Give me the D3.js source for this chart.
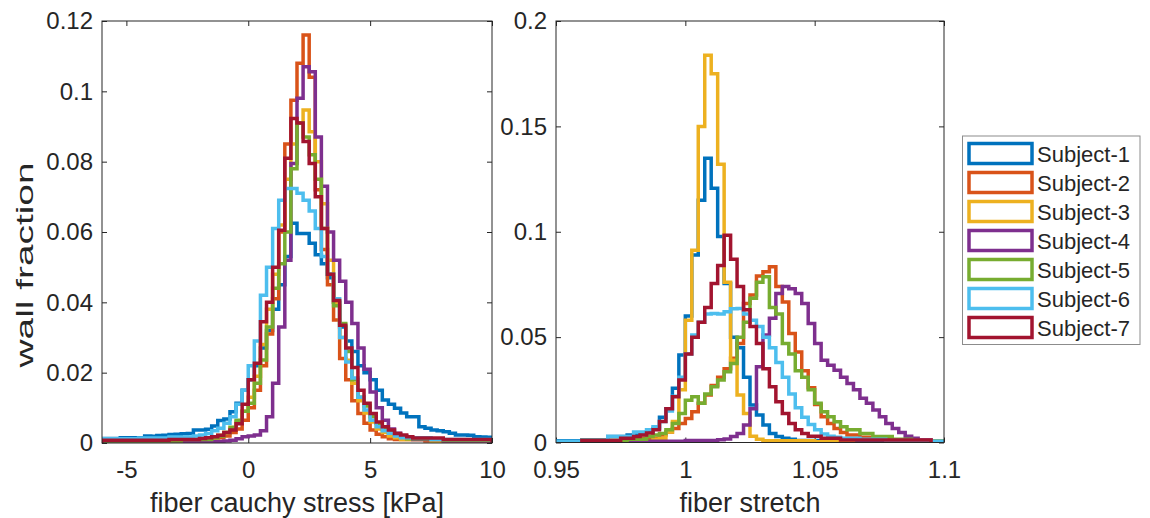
<!DOCTYPE html>
<html>
<head>
<meta charset="utf-8">
<script src="https://cdn.jsdelivr.net/npm/d3@7"></script>
<style>
body { margin: 0; background: #fff; }
text { font-family: "Liberation Sans", Arial, Helvetica, sans-serif; fill: #262626; }
</style>
</head>
<body>
<svg id="chart" width="1150" height="518"></svg>
<script>
// subjects and MATLAB default colour order
var subjects = ["Subject-1", "Subject-2", "Subject-3", "Subject-4", "Subject-5", "Subject-6", "Subject-7"];
var colors = ["#0072BD", "#D95319", "#EDB120", "#7E2F8E", "#77AC30", "#4DBEEE", "#A2142F"];

// histogram bins
var stressBinStart = -6, stressBinWidth = 0.25;     // 64 bins
var stretchBinStart = 0.95, stretchBinWidth = 0.0025; // 60 bins

// wall fraction per bin, fiber cauchy stress [kPa]
var stress1 = [
  0.0013,0.0013,0.0013,0.0015,0.0015,0.0015,0.0015,0.0020,
  0.0019,0.0021,0.0022,0.0024,0.0025,0.0026,0.0027,0.0037,
  0.0037,0.0039,0.0048,0.0064,0.0068,0.0089,0.0113,0.0150,
  0.0180,0.0220,0.0270,0.0320,0.0380,0.0450,0.0530,0.0625,
  0.0596,0.0596,0.0568,0.0535,0.0510,0.0470,0.0400,0.0330,
  0.0290,0.0260,0.0220,0.0200,0.0180,0.0150,0.0122,0.0110,
  0.0099,0.0085,0.0075,0.0075,0.0046,0.0042,0.0037,0.0035,
  0.0032,0.0028,0.0023,0.0023,0.0022,0.0018,0.0017,0.0016];
var stress2 = [
  0.0005,0.0005,0.0005,0.0005,0.0005,0.0005,0.0005,0.0005,
  0.0005,0.0005,0.0005,0.0008,0.0008,0.0008,0.0008,0.0008,
  0.0010,0.0010,0.0010,0.0015,0.0020,0.0030,0.0040,0.0065,
  0.0100,0.0150,0.0220,0.0310,0.0410,0.0600,0.0850,0.0975,
  0.1080,0.1160,0.1040,0.0720,0.0550,0.0450,0.0350,0.0240,
  0.0180,0.0120,0.0084,0.0056,0.0037,0.0025,0.0018,0.0012,
  0.0010,0.0010,0.0010,0.0010,0.0010,0.0006,0.0006,0.0006,
  0.0006,0.0006,0.0006,0.0006,0.0006,0.0006,0.0006,0.0006];
var stress3 = [
  0.0005,0.0005,0.0005,0.0005,0.0005,0.0005,0.0005,0.0005,
  0.0005,0.0005,0.0005,0.0005,0.0005,0.0008,0.0008,0.0008,
  0.0008,0.0008,0.0012,0.0022,0.0030,0.0040,0.0060,0.0090,
  0.0130,0.0190,0.0280,0.0380,0.0480,0.0620,0.0750,0.0850,
  0.0910,0.0947,0.0885,0.0800,0.0680,0.0520,0.0400,0.0300,
  0.0235,0.0170,0.0120,0.0085,0.0060,0.0040,0.0030,0.0020,
  0.0015,0.0010,0.0010,0.0010,0.0010,0.0010,0.0005,0.0005,
  0.0005,0.0005,0.0005,0.0005,0.0005,0.0005,0.0005,0.0005];
var stress4 = [
  0.0004,0.0004,0.0004,0.0004,0.0004,0.0004,0.0004,0.0004,
  0.0004,0.0004,0.0004,0.0004,0.0004,0.0004,0.0004,0.0004,
  0.0004,0.0004,0.0004,0.0004,0.0006,0.0008,0.0012,0.0018,
  0.0020,0.0023,0.0035,0.0075,0.0170,0.0330,0.0520,0.0795,
  0.0980,0.1070,0.1056,0.0870,0.0730,0.0600,0.0520,0.0460,
  0.0400,0.0340,0.0270,0.0210,0.0145,0.0100,0.0065,0.0040,
  0.0028,0.0020,0.0015,0.0010,0.0010,0.0010,0.0010,0.0010,
  0.0006,0.0006,0.0006,0.0006,0.0006,0.0006,0.0006,0.0006];
var stress5 = [
  0.0006,0.0006,0.0006,0.0006,0.0006,0.0006,0.0006,0.0006,
  0.0006,0.0006,0.0006,0.0006,0.0006,0.0010,0.0010,0.0010,
  0.0010,0.0010,0.0015,0.0020,0.0030,0.0045,0.0065,0.0090,
  0.0113,0.0170,0.0236,0.0330,0.0440,0.0510,0.0600,0.0780,
  0.0910,0.0870,0.0820,0.0750,0.0610,0.0480,0.0390,0.0340,
  0.0260,0.0180,0.0130,0.0105,0.0075,0.0056,0.0040,0.0030,
  0.0022,0.0017,0.0012,0.0012,0.0012,0.0012,0.0012,0.0012,
  0.0008,0.0008,0.0008,0.0008,0.0008,0.0008,0.0008,0.0008];
var stress6 = [
  0.0012,0.0012,0.0012,0.0012,0.0012,0.0012,0.0014,0.0014,
  0.0014,0.0014,0.0014,0.0017,0.0017,0.0017,0.0017,0.0020,
  0.0023,0.0027,0.0035,0.0042,0.0056,0.0075,0.0110,0.0150,
  0.0220,0.0290,0.0420,0.0500,0.0610,0.0690,0.0724,0.0724,
  0.0710,0.0690,0.0660,0.0610,0.0530,0.0480,0.0410,0.0300,
  0.0230,0.0185,0.0130,0.0094,0.0065,0.0046,0.0035,0.0028,
  0.0020,0.0015,0.0015,0.0015,0.0015,0.0015,0.0010,0.0010,
  0.0010,0.0010,0.0010,0.0010,0.0010,0.0010,0.0010,0.0010];
var stress7 = [
  0.0008,0.0008,0.0008,0.0008,0.0008,0.0008,0.0008,0.0008,
  0.0008,0.0008,0.0008,0.0010,0.0010,0.0010,0.0010,0.0010,
  0.0013,0.0015,0.0018,0.0022,0.0030,0.0037,0.0055,0.0110,
  0.0180,0.0227,0.0345,0.0400,0.0500,0.0605,0.0810,0.0923,
  0.0910,0.0857,0.0795,0.0700,0.0610,0.0480,0.0405,0.0335,
  0.0270,0.0215,0.0150,0.0113,0.0084,0.0060,0.0046,0.0037,
  0.0027,0.0023,0.0018,0.0014,0.0014,0.0014,0.0014,0.0014,
  0.0010,0.0010,0.0010,0.0010,0.0010,0.0010,0.0010,0.0010];

// wall fraction per bin, fiber stretch (null = no bin drawn)
var stretch1 = [
  0.0008,0.0008,0.0008,0.0008,0.0012,0.0012,0.0012,0.0012,
  0.0028,0.0028,0.0028,0.0035,0.0035,0.0043,0.0050,0.0067,
  0.0120,0.0160,0.0257,0.0415,0.0600,0.0890,0.1150,0.1349,
  0.1206,0.0977,0.0755,0.0500,0.0450,0.0310,0.0178,0.0130,
  0.0083,0.0043,0.0028,0.0020,0.0015,0.0010,0.0010,0.0010,
  0.0010,0.0005,0.0005,0.0005,0.0005,0.0005,0.0005,0.0005,
  0.0005,0.0005,0.0005,0.0003,0.0003,0.0003,0.0003,0.0003,
  0.0003,0.0003,0.0003,0.0003];
var stretch2 = [
  null,null,null,null,0.0010,0.0010,0.0010,0.0010,
  0.0010,0.0010,0.0010,0.0020,0.0020,0.0020,0.0020,0.0020,
  0.0035,0.0050,0.0067,0.0090,0.0114,0.0146,0.0186,0.0225,
  0.0270,0.0310,0.0350,0.0400,0.0470,0.0660,0.0700,0.0790,
  0.0810,0.0834,0.0740,0.0667,0.0517,0.0430,0.0340,0.0260,
  0.0180,0.0122,0.0090,0.0067,0.0047,0.0035,0.0035,0.0025,
  0.0025,0.0015,0.0015,0.0015,0.0008,0.0008,0.0008,0.0008,
  0.0008,0.0008,0.0005,0.0005];
var stretch3 = [
  null,null,null,null,0.0005,0.0005,0.0005,0.0005,
  0.0005,0.0005,0.0005,0.0005,0.0005,0.0005,0.0005,0.0015,
  0.0020,0.0050,0.0100,0.0250,0.0580,0.0912,0.1500,0.1837,
  0.1750,0.1320,0.0760,0.0390,0.0225,0.0138,0.0030,0.0015,
  0.0008,0.0008,0.0008,0.0008,0.0008,0.0008,0.0008,0.0008,
  0.0004,0.0004,0.0004,0.0004,0.0004,0.0004,null,null,
  null,null,null,null,null,null,null,null,
  null,null,null,null];
var stretch4 = [
  null,null,null,null,0.0006,0.0006,0.0006,0.0006,
  0.0006,0.0006,0.0006,0.0006,0.0006,0.0006,0.0006,0.0006,
  0.0006,0.0006,0.0006,0.0006,0.0010,0.0010,0.0010,0.0010,
  0.0010,0.0013,0.0017,0.0028,0.0043,0.0083,0.0160,0.0360,
  0.0510,0.0590,0.0707,0.0740,0.0730,0.0707,0.0660,0.0565,
  0.0470,0.0390,0.0367,0.0343,0.0310,0.0280,0.0250,0.0210,
  0.0186,0.0154,0.0122,0.0090,0.0067,0.0047,0.0030,0.0020,
  0.0012,0.0012,0.0005,0.0005];
var stretch5 = [
  null,null,null,null,0.0010,0.0010,0.0010,0.0010,
  0.0010,0.0010,0.0010,0.0015,0.0015,0.0015,0.0028,0.0035,
  0.0043,0.0060,0.0090,0.0138,0.0200,0.0217,0.0186,0.0230,
  0.0265,0.0296,0.0336,0.0375,0.0500,0.0570,0.0684,0.0760,
  0.0786,0.0640,0.0610,0.0470,0.0420,0.0340,0.0310,0.0250,
  0.0186,0.0146,0.0122,0.0098,0.0075,0.0060,0.0060,0.0043,
  0.0043,0.0028,0.0028,0.0028,0.0015,0.0015,0.0015,0.0007,
  0.0007,0.0007,0.0007,0.0007];
var stretch6 = [
  0.0006,0.0006,0.0006,0.0006,0.0009,0.0009,0.0009,0.0009,
  0.0028,0.0028,0.0028,0.0028,0.0050,0.0050,0.0060,0.0075,
  0.0100,0.0150,0.0220,0.0310,0.0420,0.0510,0.0570,0.0610,
  0.0612,0.0610,0.0620,0.0635,0.0636,0.0610,0.0580,0.0550,
  0.0500,0.0450,0.0380,0.0310,0.0230,0.0165,0.0120,0.0085,
  0.0060,0.0040,0.0030,0.0025,0.0020,0.0020,0.0020,0.0015,
  0.0015,0.0015,0.0015,0.0010,0.0010,0.0010,0.0010,0.0010,
  0.0006,0.0006,0.0006,0.0006];
var stretch7 = [
  null,null,null,null,0.0010,0.0010,0.0010,0.0010,
  0.0010,0.0010,0.0020,0.0020,0.0028,0.0035,0.0045,0.0060,
  0.0100,0.0160,0.0217,0.0296,0.0420,0.0500,0.0570,0.0640,
  0.0755,0.0840,0.0983,0.0870,0.0740,0.0630,0.0550,0.0470,
  0.0350,0.0265,0.0193,0.0138,0.0090,0.0060,0.0043,0.0030,
  0.0030,0.0020,0.0020,0.0020,0.0012,0.0012,0.0012,0.0012,
  0.0012,0.0012,0.0012,0.0012,0.0012,0.0012,0.0012,0.0012,
  0.0012,0.0012,null,null];

// ticks
var stressXTicks = [-5, 0, 5, 10], stressXLabels = ["-5", "0", "5", "10"];
var stressYTicks = [0, 0.02, 0.04, 0.06, 0.08, 0.1, 0.12];
var stressYLabels = ["0", "0.02", "0.04", "0.06", "0.08", "0.1", "0.12"];
var stretchXTicks = [0.95, 1, 1.05, 1.1], stretchXLabels = ["0.95", "1", "1.05", "1.1"];
var stretchYTicks = [0, 0.05, 0.1, 0.15, 0.2];
var stretchYLabels = ["0", "0.05", "0.1", "0.15", "0.2"];

var svg = d3.select("#chart");
var axisColor = "#262626";

function drawPanel(opt) {
    var x = d3.scaleLinear().domain(opt.xDomain).range([opt.left, opt.right]);
    var y = d3.scaleLinear().domain(opt.yDomain).range([opt.bottom, opt.top]);

    var g = svg.append("g");

    g.append("clipPath").attr("id", opt.id)
        .append("rect")
        .attr("x", opt.left).attr("y", opt.top)
        .attr("width", opt.right - opt.left).attr("height", opt.bottom - opt.top);

    // stairs outline of each histogram
    function stairs(vals) {
        var first = vals.findIndex(v => v != null);
        var last = vals.length - 1;
        while (vals[last] == null) last--;
        var edge = i => opt.binStart + i * opt.binWidth;
        var p = "M" + x(edge(first)) + "," + y(0);
        for (var i = first; i <= last; i++) {
            p += "V" + y(vals[i]) + "H" + x(edge(i + 1));
        }
        return p + "V" + y(0);
    }

    var tickLen = 5;
    var xAxis = g.append("g")
        .attr("transform", "translate(0," + opt.bottom + ")")
        .call(d3.axisBottom(x).tickValues(opt.xTicks)
            .tickFormat((d, i) => opt.xLabels[i])
            .tickSizeInner(-tickLen).tickSizeOuter(0).tickPadding(18));
    var xTop = g.append("g")
        .attr("transform", "translate(0," + opt.top + ")")
        .call(d3.axisTop(x).tickValues(opt.xTicks).tickFormat("")
            .tickSizeInner(-tickLen).tickSizeOuter(0));
    var yAxis = g.append("g")
        .attr("transform", "translate(" + opt.left + ",0)")
        .call(d3.axisLeft(y).tickValues(opt.yTicks)
            .tickFormat((d, i) => opt.yLabels[i])
            .tickSizeInner(-tickLen).tickSizeOuter(0).tickPadding(9));
    var yRight = g.append("g")
        .attr("transform", "translate(" + opt.right + ",0)")
        .call(d3.axisRight(y).tickValues(opt.yTicks).tickFormat("")
            .tickSizeInner(-tickLen).tickSizeOuter(0));

    [xAxis, xTop, yAxis, yRight].forEach(function (a) {
        a.select(".domain").remove();
        a.selectAll("line").attr("stroke", axisColor);
        a.selectAll("text")
            .style("font-family", "'Liberation Sans', Arial, Helvetica, sans-serif")
            .style("font-size", "24px")
            .attr("fill", axisColor);
    });

    g.append("g").attr("clip-path", "url(#" + opt.id + ")")
        .selectAll("path")
        .data(opt.series)
        .join("path")
        .attr("d", d => stairs(d))
        .attr("fill", "none")
        .attr("stroke", (d, i) => colors[i])
        .attr("stroke-width", 3.5)
        .attr("stroke-linejoin", "miter");

    // box
    g.append("rect")
        .attr("x", opt.left).attr("y", opt.top)
        .attr("width", opt.right - opt.left).attr("height", opt.bottom - opt.top)
        .attr("fill", "none").attr("stroke", axisColor).attr("stroke-width", 1);

    g.append("text")
        .attr("x", (opt.left + opt.right) / 2)
        .attr("y", 512)
        .attr("text-anchor", "middle")
        .style("font-size", "27px")
        .text(opt.xTitle);
}

drawPanel({
    id: "clipStress",
    left: 102, right: 492, top: 21, bottom: 443,
    xDomain: [-6, 10], yDomain: [0, 0.12],
    binStart: stressBinStart, binWidth: stressBinWidth,
    series: [stress1, stress2, stress3, stress4, stress5, stress6, stress7],
    xTicks: stressXTicks, xLabels: stressXLabels,
    yTicks: stressYTicks, yLabels: stressYLabels,
    xTitle: "fiber cauchy stress [kPa]"
});

drawPanel({
    id: "clipStretch",
    left: 556, right: 944, top: 21, bottom: 442.5,
    xDomain: [0.95, 1.1], yDomain: [0, 0.2],
    binStart: stretchBinStart, binWidth: stretchBinWidth,
    series: [stretch1, stretch2, stretch3, stretch4, stretch5, stretch6, stretch7],
    xTicks: stretchXTicks, xLabels: stretchXLabels,
    yTicks: stretchYTicks, yLabels: stretchYLabels,
    xTitle: "fiber stretch"
});

// y label
svg.append("text")
    .attr("transform", "translate(33,265) rotate(-90)")
    .attr("text-anchor", "middle")
    .attr("textLength", 205)
    .attr("lengthAdjust", "spacingAndGlyphs")
    .style("font-size", "24px")
    .text("wall fraction");

// legend
var legend = svg.append("g");
legend.append("rect")
    .attr("x", 962.5).attr("y", 136)
    .attr("width", 177.5).attr("height", 208.5)
    .attr("fill", "#fff").attr("stroke", "#8c8c8c").attr("stroke-width", 1);

var rowY = d3.scaleLinear().domain([0, 6]).range([153.5, 327.5]);
var items = legend.selectAll(".item")
    .data(subjects)
    .join("g")
    .attr("class", "item")
    .attr("transform", (d, i) => "translate(0," + rowY(i) + ")");
items.append("rect")
    .attr("x", 969).attr("y", -10)
    .attr("width", 63).attr("height", 20)
    .attr("fill", "none")
    .attr("stroke", (d, i) => colors[i])
    .attr("stroke-width", 3.5);
items.append("text")
    .attr("x", 1037).attr("y", 8)
    .style("font-size", "22px")
    .text(d => d);
</script>
</body>
</html>
